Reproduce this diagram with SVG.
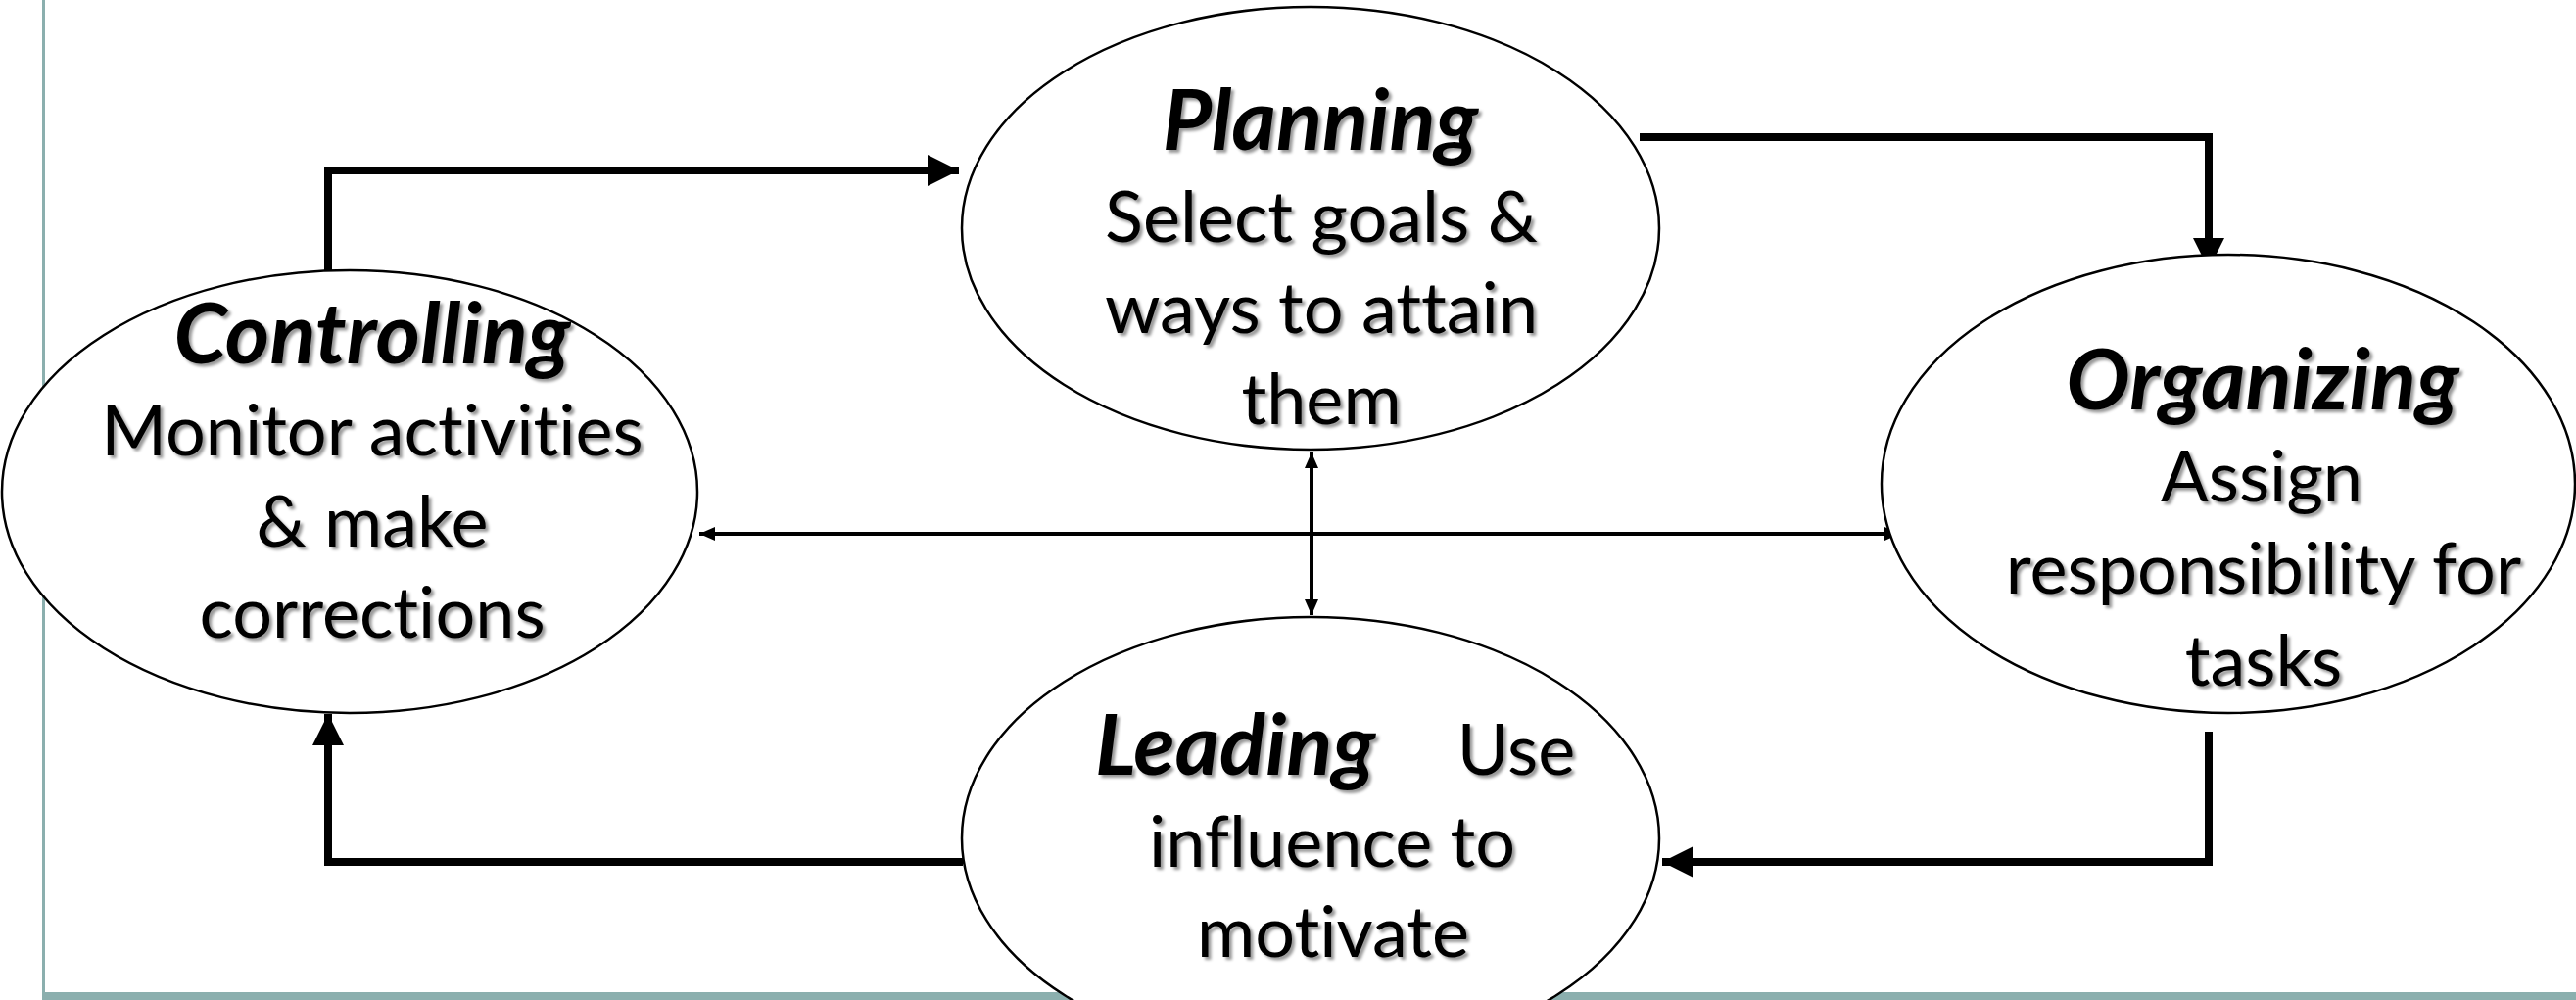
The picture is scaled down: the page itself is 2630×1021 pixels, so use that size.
<svg xmlns="http://www.w3.org/2000/svg" width="2630" height="1021" viewBox="0 0 2630 1021">
<defs>
<style>
.node ellipse{fill:#fff;stroke:#000;stroke-width:2.5}
.t{font-family:Lato,"Liberation Sans",sans-serif;font-size:72px;fill:#000;text-anchor:middle;filter:url(#sh);font-variant-ligatures:none;font-feature-settings:"liga" 0}
.h{font-weight:bold;font-style:italic;font-size:87px}
.thick{fill:none;stroke:#000;stroke-width:8;stroke-linejoin:miter}
.thin{fill:none;stroke:#000;stroke-width:4}
</style>
<filter id="sh" x="-10%" y="-30%" width="120%" height="160%">
<feDropShadow dx="3" dy="3" stdDeviation="1.8" flood-color="#000" flood-opacity="0.4"/>
</filter>
<marker id="big" markerUnits="userSpaceOnUse" markerWidth="32" markerHeight="32" viewBox="0 0 32 32" refX="32" refY="16" orient="auto">
<path d="M0,0 L32,16 L0,32 Z" fill="#000"/>
</marker>
<marker id="sm" markerUnits="userSpaceOnUse" markerWidth="16" markerHeight="14" viewBox="0 0 16 14" refX="16" refY="7" orient="auto-start-reverse">
<path d="M0,0 L16,7 L0,14 Z" fill="#000"/>
</marker>
</defs>
<rect width="2630" height="1021" fill="#fff"/>
<g id="frame">
<line x1="44.5" y1="0" x2="44.5" y2="1013" stroke="#8BAFAE" stroke-width="3"/>
<rect x="43" y="1013" width="2587" height="8" fill="#8BAFAE"/>
</g>
<g id="connectors">
<path class="thick" d="M335,277 V174 H979" marker-end="url(#big)"/>
<path class="thick" d="M1674,140 H2255 V275" marker-end="url(#big)"/>
<path class="thick" d="M2255,747 V880 H1697" marker-end="url(#big)"/>
<path class="thick" d="M983,880 H335 V729" marker-end="url(#big)"/>
<path class="thin" d="M714,545 H1940" marker-start="url(#sm)" marker-end="url(#sm)"/>
<path class="thin" d="M1339,462 V628" marker-start="url(#sm)" marker-end="url(#sm)"/>
</g>
<g id="controlling" class="node">
<ellipse cx="357" cy="502" rx="355" ry="226"/>
<text class="t"><tspan class="h" x="380" y="371">Controlling</tspan><tspan x="380" y="465">Monitor activities</tspan><tspan x="380" y="558">&amp; make</tspan><tspan x="380" y="651">corrections</tspan></text>
</g>
<g id="planning" class="node">
<ellipse cx="1338" cy="233" rx="356" ry="226"/>
<text class="t"><tspan class="h" x="1348" y="153">Planning</tspan><tspan x="1349" y="247">Select goals &amp;</tspan><tspan x="1349" y="340">ways to attain</tspan><tspan x="1349" y="433">them</tspan></text>
</g>
<g id="organizing" class="node">
<ellipse cx="2275" cy="494" rx="354" ry="234"/>
<text class="t"><tspan class="h" x="2310" y="418">Organizing</tspan><tspan x="2309" y="512">Assign</tspan><tspan x="2311" y="606">responsibility for</tspan><tspan x="2311" y="700">tasks</tspan></text>
</g>
<g id="leading" class="node">
<ellipse cx="1338" cy="856" rx="356" ry="226"/>
<text class="t"><tspan class="h" x="1261" y="791">Leading</tspan><tspan x="1548" y="791">Use</tspan><tspan x="1360" y="885">influence to</tspan><tspan x="1361" y="977">motivate</tspan></text>
</g>
</svg>
